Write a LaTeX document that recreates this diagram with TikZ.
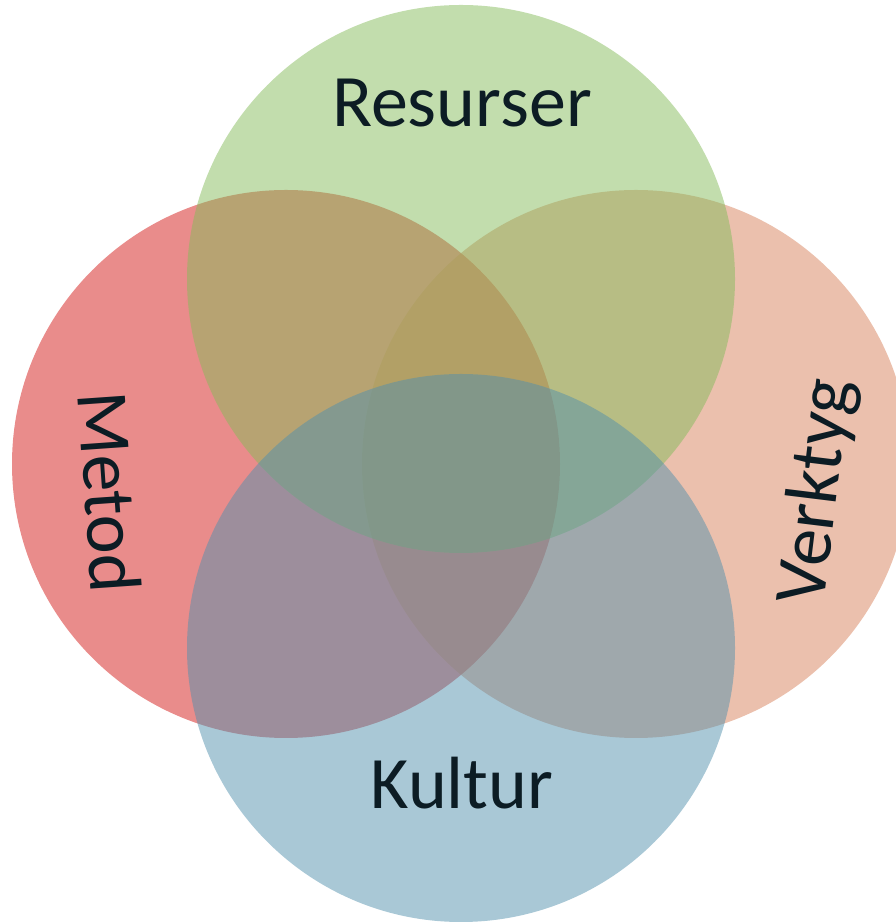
\documentclass[tikz,border=0pt]{standalone}
\usepackage{fontspec}
\setmainfont{Carlito}
\definecolor{cred}{RGB}{211,25,23}
\definecolor{corange}{RGB}{215,129,91}
\definecolor{cgreen}{RGB}{133,187,91}
\definecolor{cblue}{RGB}{83,145,173}
\definecolor{ctext}{RGB}{12,28,36}
\begin{document}
\begin{tikzpicture}[x=1pt,y=1pt,
  venn/.style={circle, draw=none, inner sep=0pt, minimum size=548pt, fill opacity=0.5},
  lbl/.style={font=\fontsize{74}{80}\selectfont, text=ctext, inner sep=0pt}]
\useasboundingbox (0,0) rectangle (896,923);
\clip (0,0) rectangle (896,923);
\node[venn, fill=cred]    (metod)    at (286,459) {};
\node[venn, fill=corange] (verktyg)  at (636,459) {};
\node[venn, fill=cgreen]  (resurser) at (461,644) {};
\node[venn, fill=cblue]   (kultur)   at (461,275) {};
\node[lbl, anchor=base] (tres) at (462,796) {Resurser};
\node[lbl, anchor=base] (tkul) at (462,114) {Kultur};
\node[lbl, rotate=-86] (tmet) at (110,431) {Metod};
\node[lbl, rotate=83] (tver) at (818,431) {Verktyg};
\end{tikzpicture}
\end{document}
